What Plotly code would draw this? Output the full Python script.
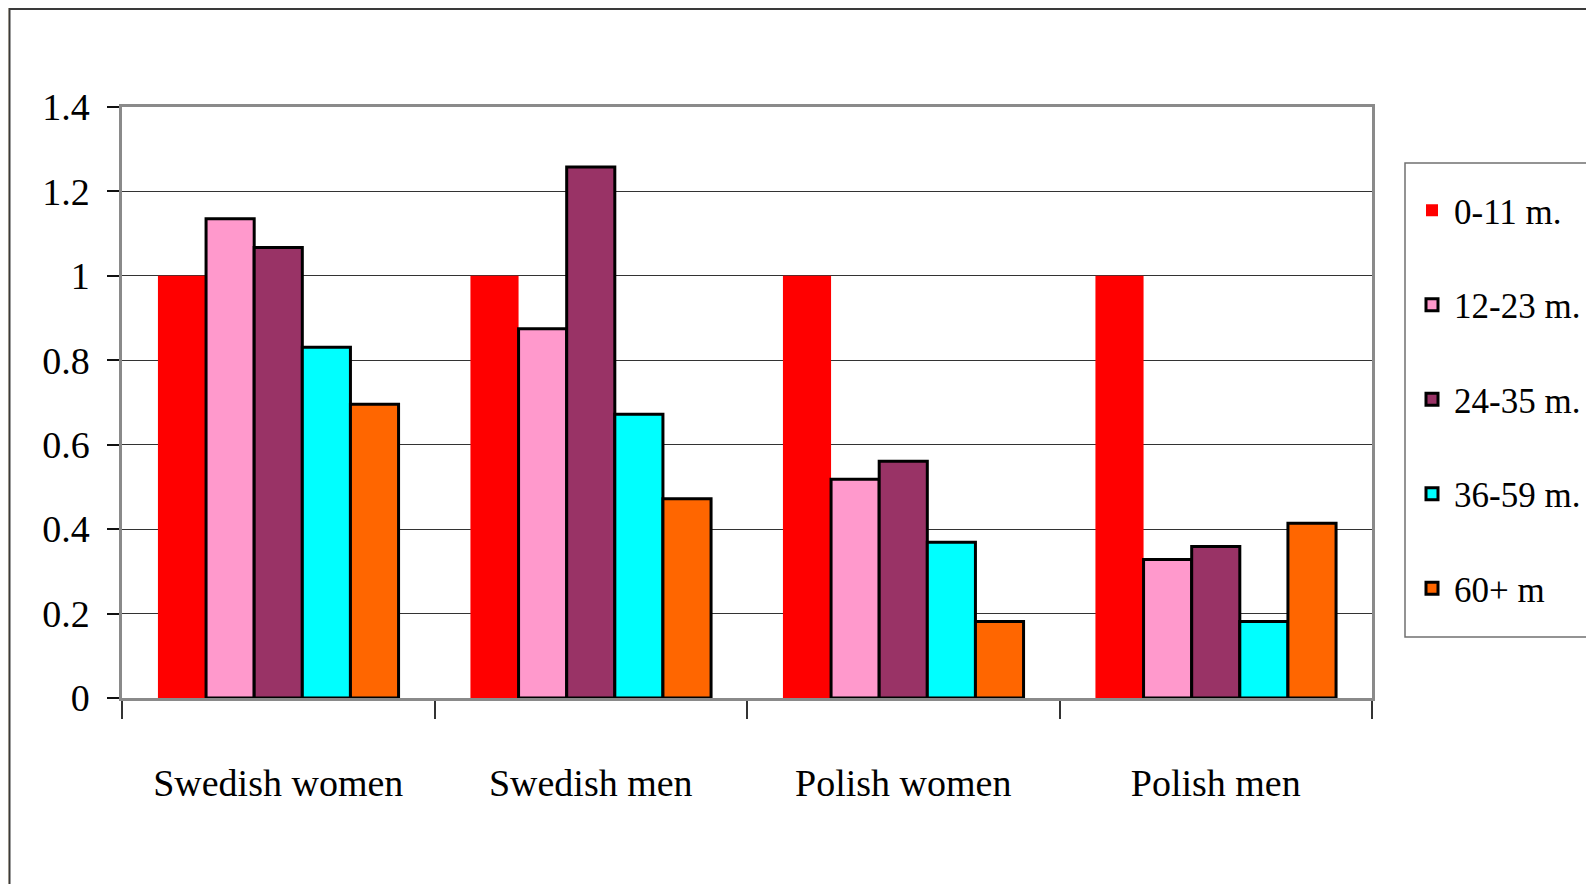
import plotly.graph_objects as go

categories = ["Swedish women", "Swedish men", "Polish women", "Polish men"]
series_names = ["0-11 m.", "12-23 m.", "24-35 m.", "36-59 m.", "60+ m"]
v_0_11 = [1.0, 1.0, 1.0, 1.0]
v_12_23 = [1.135, 0.875, 0.518, 0.328]
v_24_35 = [1.067, 1.258, 0.561, 0.359]
v_36_59 = [0.831, 0.672, 0.369, 0.181]
v_60p = [0.696, 0.472, 0.181, 0.414]
y_ticks = [0, 0.2, 0.4, 0.6, 0.8, 1.0, 1.2, 1.4]
y_tick_labels = ["0", "0.2", "0.4", "0.6", "0.8", "1", "1.2", "1.4"]

series_values = [v_0_11, v_12_23, v_24_35, v_36_59, v_60p]
colors = ["#FF0000", "#FF99CC", "#993366", "#00FFFF", "#FF6600"]
line_widths = [0, 3, 3, 3, 3]

FONT = "Liberation Serif, Times New Roman, serif"

# page offset (body margin) compensation
OFF = 8
W, H = 1594 - OFF, 884 - OFF
ML, MR, MT, MB = 122 - OFF, 222, 107 - OFF, 186
PW = W - ML - MR
PH = H - MT - MB


def px_x(p):
    return (p - OFF - ML) / PW


def px_y(p):
    return (H - MB - (p - OFF)) / PH


fig = go.Figure()
for name, vals, col, lw in zip(series_names, series_values, colors, line_widths):
    fig.add_trace(go.Bar(
        x=categories, y=vals, name=name, legendgroup=name,
        marker=dict(color=col, line=dict(color="#000000" if lw else col, width=lw)),
    ))

# white chart area with dark frame
fig.add_shape(type="rect", xref="paper", yref="paper",
              x0=px_x(9.5), x1=px_x(1640), y0=px_y(9), y1=px_y(940),
              fillcolor="white", line=dict(color="#3a3a3a", width=2), layer="below")
# legend frame
fig.add_shape(type="rect", xref="paper", yref="paper",
              x0=px_x(1405), x1=px_x(1640), y0=px_y(163), y1=px_y(637),
              fillcolor="white", line=dict(color="#707070", width=1.5), layer="below")

fig.update_layout(
    width=W, height=H,
    margin=dict(l=ML, r=MR, t=MT, b=MB, autoexpand=False),
    paper_bgcolor="#F8EDD6",
    plot_bgcolor="white",
    barmode="group",
    bargap=0.23,
    bargroupgap=0,
    font=dict(family=FONT, size=38, color="black"),
    showlegend=True,
    legend=dict(
        x=px_x(1410), y=px_y(181), xanchor="left", yanchor="top",
        bgcolor="rgba(0,0,0,0)", borderwidth=0, itemwidth=34,
        font=dict(family=FONT, size=35, color="black"),
        traceorder="grouped", tracegroupgap=46,
        itemclick=False,
    ),
    xaxis=dict(
        type="category", tickson="boundaries", ticks="outside", ticklen=18,
        tickcolor="#333333", tickwidth=1.5,
        showline=True, linecolor="#8a8a8a", linewidth=2.5, mirror=True,
        showgrid=False, ticklabelstandoff=50,
        tickfont=dict(family=FONT, size=38, color="black"),
    ),
    yaxis=dict(
        range=[0, 1.4], tickvals=y_ticks, ticktext=y_tick_labels,
        ticks="outside", ticklen=12, tickcolor="#111111", tickwidth=1.5,
        showline=True, linecolor="#8a8a8a", linewidth=2.5, mirror=True,
        showgrid=True, gridcolor="#333333", gridwidth=1.2,
        zeroline=False, ticklabelstandoff=10,
        tickfont=dict(family=FONT, size=38, color="black"),
    ),
)

fig.write_html("out.html")
